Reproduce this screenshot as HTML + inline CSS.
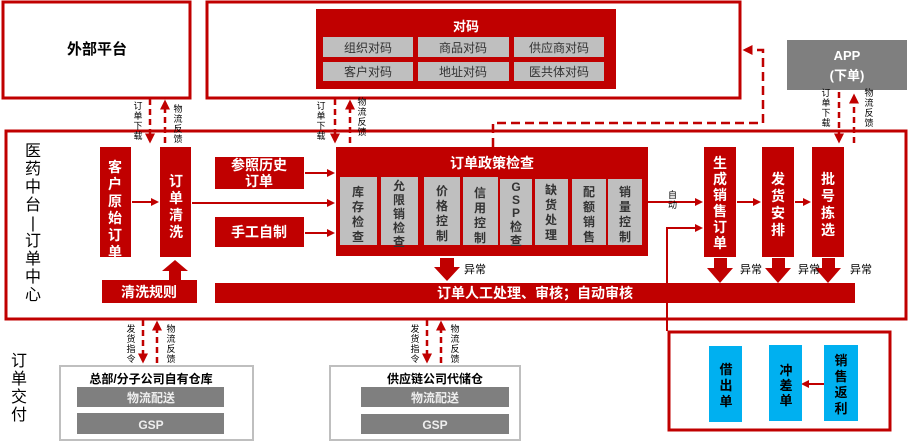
<!DOCTYPE html>
<html><head><meta charset="utf-8"><style>
body{margin:0;background:#fff;}
svg text{font-family:"Liberation Sans","Noto Sans CJK SC",sans-serif;}
</style></head><body>
<svg width="909" height="442" viewBox="0 0 909 442" xmlns="http://www.w3.org/2000/svg">
<defs>
<marker id="as" markerWidth="4" markerHeight="4" refX="3" refY="2" orient="auto" markerUnits="strokeWidth"><path d="M0,0 L4,2 L0,4 z" fill="#c00000"/></marker>
</defs>
<g fill="none" stroke="#c00000" stroke-width="3">
<rect x="3" y="2" width="187" height="96"/>
<rect x="207" y="2" width="533" height="96"/>
<rect x="6" y="131" width="900" height="188"/>
<rect x="669" y="332" width="221" height="98"/>
</g>
<text x="97" y="54" font-size="15" font-weight="bold" text-anchor="middle">外部平台</text>
<rect x="316" y="9" width="300" height="80" fill="#c00000"/>
<text x="466" y="31" font-size="13" font-weight="bold" fill="#fff" text-anchor="middle">对码</text>
<g fill="#bfbfbf">
<rect x="323" y="37" width="90" height="20"/><rect x="418" y="37" width="91" height="20"/><rect x="514" y="37" width="90" height="20"/>
<rect x="323" y="62" width="90" height="19"/><rect x="418" y="62" width="91" height="19"/><rect x="514" y="62" width="90" height="19"/>
</g>
<g font-size="12" text-anchor="middle" fill="#333">
<text x="368" y="52">组织对码</text><text x="463" y="52">商品对码</text><text x="559" y="52">供应商对码</text>
<text x="368" y="76">客户对码</text><text x="463" y="76">地址对码</text><text x="559" y="76">医共体对码</text>
</g>
<rect x="787" y="40" width="120" height="50" fill="#7f7f7f"/>
<text x="847" y="60" font-size="13" font-weight="bold" fill="#fff" text-anchor="middle">APP</text>
<text x="847" y="80" font-size="13" font-weight="bold" fill="#fff" text-anchor="middle">(下单)</text>
<g font-size="16" text-anchor="middle" fill="#000">
<text x="33" y="156">医</text><text x="33" y="174">药</text><text x="33" y="192">中</text><text x="33" y="210">台</text><text x="33" y="228">|</text><text x="33" y="246">订</text><text x="33" y="264">单</text><text x="33" y="282">中</text><text x="33" y="300">心</text>
<text x="19" y="366">订</text><text x="19" y="384">单</text><text x="19" y="402">交</text><text x="19" y="420">付</text>
</g>
<g fill="#c00000">
<rect x="100" y="147" width="31" height="110"/>
<rect x="160" y="147" width="31" height="110"/>
<rect x="102" y="280" width="95" height="23"/>
<rect x="215" y="157" width="89" height="32"/>
<rect x="215" y="217" width="89" height="30"/>
<rect x="336" y="147" width="312" height="109"/>
<rect x="215" y="283" width="640" height="20"/>
<rect x="704" y="147" width="32" height="110"/>
<rect x="762" y="147" width="32" height="110"/>
<rect x="812" y="147" width="32" height="110"/>
<polygon points="175,260 188,271 181,271 181,280 169,280 169,271 162,271"/>
</g>
<g font-size="14" font-weight="bold" fill="#fff" text-anchor="middle">
<text x="115" y="172">客</text><text x="115" y="189">户</text><text x="115" y="206">原</text><text x="115" y="223">始</text><text x="115" y="240">订</text><text x="115" y="257">单</text>
<text x="176" y="186">订</text><text x="176" y="203">单</text><text x="176" y="220">清</text><text x="176" y="237">洗</text>
<text x="149" y="297">清洗规则</text>
<text x="259" y="170">参照历史</text><text x="259" y="186">订单</text>
<text x="259" y="237">手工自制</text>
<text x="492" y="168">订单政策检查</text>
<text x="720" y="168">生</text><text x="720" y="184">成</text><text x="720" y="200">销</text><text x="720" y="216">售</text><text x="720" y="232">订</text><text x="720" y="248">单</text>
<text x="778" y="184">发</text><text x="778" y="201">货</text><text x="778" y="218">安</text><text x="778" y="235">排</text>
<text x="828" y="184">批</text><text x="828" y="201">号</text><text x="828" y="218">拣</text><text x="828" y="235">选</text>
<text x="535" y="298">订单人工处理、审核；自动审核</text>
</g>
<g fill="#bfbfbf">
<rect x="340" y="177" width="37" height="68"/><rect x="381" y="177" width="37" height="68"/><rect x="424" y="177" width="36" height="68"/><rect x="463" y="177" width="35" height="68"/>
<rect x="500" y="179" width="32" height="66"/><rect x="535" y="179" width="33" height="66"/><rect x="572" y="179" width="34" height="66"/><rect x="608" y="179" width="34" height="66"/>
</g>
<g font-size="12" font-weight="bold" fill="#333" text-anchor="middle">
<text x="358" y="196">库</text><text x="358" y="211">存</text><text x="358" y="226">检</text><text x="358" y="241">查</text>
<text x="399" y="190">允</text><text x="399" y="204">限</text><text x="399" y="218">销</text><text x="399" y="232">检</text><text x="399" y="246">查</text>
<text x="442" y="195">价</text><text x="442" y="210">格</text><text x="442" y="225">控</text><text x="442" y="240">制</text>
<text x="480" y="197">信</text><text x="480" y="212">用</text><text x="480" y="227">控</text><text x="480" y="242">制</text>
<text x="516" y="191">G</text><text x="516" y="204">S</text><text x="516" y="217">P</text><text x="516" y="231">检</text><text x="516" y="245">查</text>
<text x="551" y="194">缺</text><text x="551" y="209">货</text><text x="551" y="224">处</text><text x="551" y="239">理</text>
<text x="589" y="196">配</text><text x="589" y="211">额</text><text x="589" y="226">销</text><text x="589" y="241">售</text>
<text x="625" y="196">销</text><text x="625" y="211">量</text><text x="625" y="226">控</text><text x="625" y="241">制</text>
</g>
<g stroke="#c00000" stroke-width="2" marker-end="url(#as)" fill="none">
<line x1="132" y1="202" x2="157" y2="202"/>
<line x1="192" y1="203" x2="333" y2="203"/>
<line x1="305" y1="173" x2="333" y2="173"/>
<line x1="305" y1="233" x2="333" y2="233"/>
<line x1="648" y1="202" x2="701" y2="202"/>
<line x1="737" y1="202" x2="759" y2="202"/>
<line x1="795" y1="202" x2="809" y2="202"/>
<polyline points="667,331 667,228 701,228"/>
<line x1="845" y1="384" x2="803" y2="384"/>
</g>
<g fill="#c00000">
<polygon points="440,258 454,258 454,267 460,267 447,281 434,267 440,267"/>
<polygon points="714,258 727,258 727,268 733,268 720,283 707,268 714,268"/>
<polygon points="772,258 785,258 785,268 791,268 778,283 765,268 772,268"/>
<polygon points="822,258 835,258 835,268 841,268 828,283 815,268 822,268"/>
</g>
<g font-size="11" fill="#000">
<text x="464" y="273">异常</text><text x="740" y="273">异常</text><text x="798" y="273">异常</text><text x="850" y="273">异常</text>
<text x="668" y="198" font-size="9">自</text><text x="668" y="208" font-size="9">动</text>
</g>
<polyline points="493,147 493,123 763,123 763,50 745,50" fill="none" stroke="#c00000" stroke-width="2.5" stroke-dasharray="9,5" marker-end="url(#as)"/>
<g stroke="#c00000" stroke-width="2.5" stroke-dasharray="6,4" marker-end="url(#as)" fill="none">
<line x1="150" y1="99" x2="150" y2="141"/><line x1="165" y1="143" x2="165" y2="102"/>
<line x1="335" y1="99" x2="335" y2="141"/><line x1="350" y1="143" x2="350" y2="102"/>
<line x1="839" y1="92" x2="839" y2="141"/><line x1="854" y1="143" x2="854" y2="96"/>
<line x1="143" y1="320" x2="143" y2="361"/><line x1="157" y1="363" x2="157" y2="323"/>
<line x1="427" y1="320" x2="427" y2="361"/><line x1="441" y1="363" x2="441" y2="323"/>
</g>
<g font-size="9" fill="#000" text-anchor="middle">
<text x="138" y="109">订</text><text x="138" y="119">单</text><text x="138" y="129">下</text><text x="138" y="139">载</text>
<text x="178" y="112">物</text><text x="178" y="122">流</text><text x="178" y="132">反</text><text x="178" y="142">馈</text>
<text x="321" y="109">订</text><text x="321" y="119">单</text><text x="321" y="129">下</text><text x="321" y="139">载</text>
<text x="362" y="105">物</text><text x="362" y="115">流</text><text x="362" y="125">反</text><text x="362" y="135">馈</text>
<text x="826" y="96">订</text><text x="826" y="106">单</text><text x="826" y="116">下</text><text x="826" y="126">载</text>
<text x="869" y="96">物</text><text x="869" y="106">流</text><text x="869" y="116">反</text><text x="869" y="126">馈</text>
<text x="131" y="332">发</text><text x="131" y="342">货</text><text x="131" y="352">指</text><text x="131" y="362">令</text>
<text x="171" y="332">物</text><text x="171" y="342">流</text><text x="171" y="352">反</text><text x="171" y="362">馈</text>
<text x="415" y="332">发</text><text x="415" y="342">货</text><text x="415" y="352">指</text><text x="415" y="362">令</text>
<text x="455" y="332">物</text><text x="455" y="342">流</text><text x="455" y="352">反</text><text x="455" y="362">馈</text>
</g>
<g fill="none" stroke="#bfbfbf" stroke-width="2">
<rect x="60" y="366" width="193" height="74"/>
<rect x="330" y="366" width="190" height="74"/>
</g>
<g fill="#7f7f7f">
<rect x="77" y="387" width="147" height="20"/><rect x="77" y="413" width="147" height="21"/>
<rect x="361" y="387" width="148" height="20"/><rect x="361" y="414" width="148" height="20"/>
</g>
<g font-size="12" font-weight="bold" text-anchor="middle">
<text x="151" y="383" fill="#000">总部/分子公司自有仓库</text>
<text x="435" y="383" fill="#000">供应链公司代储仓</text>
<text x="151" y="402" fill="#eee">物流配送</text><text x="151" y="429" fill="#eee">GSP</text>
<text x="435" y="402" fill="#eee">物流配送</text><text x="435" y="429" fill="#eee">GSP</text>
</g>
<g fill="#00b0f0">
<rect x="709" y="346" width="33" height="76"/>
<rect x="769" y="345" width="33" height="76"/>
<rect x="824" y="345" width="34" height="76"/>
</g>
<g font-size="13" font-weight="bold" fill="#000" text-anchor="middle">
<text x="726" y="374">借</text><text x="726" y="390">出</text><text x="726" y="406">单</text>
<text x="786" y="375">冲</text><text x="786" y="390">差</text><text x="786" y="405">单</text>
<text x="841" y="365">销</text><text x="841" y="381">售</text><text x="841" y="397">返</text><text x="841" y="413">利</text>
</g>
</svg>
</body></html>
